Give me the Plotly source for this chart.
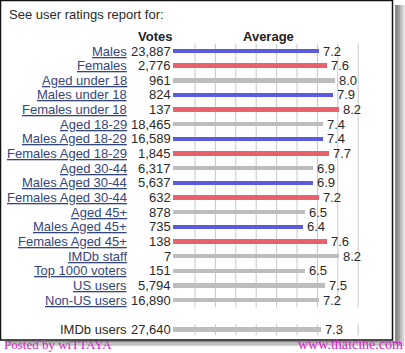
import plotly.graph_objects as go

W, H = 405, 353

labels = ["Males", "Females", "Aged under 18", "Males under 18", "Females under 18",
          "Aged 18-29", "Males Aged 18-29", "Females Aged 18-29", "Aged 30-44",
          "Males Aged 30-44", "Females Aged 30-44", "Aged 45+", "Males Aged 45+",
          "Females Aged 45+", "IMDb staff", "Top 1000 voters", "US users", "Non-US users"]
votes = ["23,887", "2,776", "961", "824", "137", "18,465", "16,589", "1,845", "6,317",
         "5,637", "632", "878", "735", "138", "7", "151", "5,794", "16,890"]
averages = [7.2, 7.6, 8.0, 7.9, 8.2, 7.4, 7.4, 7.7, 6.9, 6.9, 7.2, 6.5, 6.4, 7.6,
            8.2, 6.5, 7.5, 7.2]
groups = ["m", "f", "a", "m", "f", "a", "m", "f", "a", "m", "f", "a", "m", "f",
          "a", "a", "a", "a"]
total_label = "IMDb users"
total_votes = "27,640"
total_average = 7.3

COLORS = {"m": "#5b5be0", "f": "#e8626b", "a": "#bdbdbd"}
FONT = "Liberation Sans, Arial, sans-serif"
TXT = "#2a2a2a"
LINK = "#34467e"

# pixel geometry
X0, SX = 173.0, 20.3      # x pixel of value 0, pixels per unit
Y0, SY = 51.0, 14.65      # y pixel of first row, pixels per row


def px(x):
    return x / W


def py(y):
    return 1 - y / H


rows = list(range(len(labels)))
total_row = len(labels) + 1
all_rows = rows + [total_row]
all_vals = averages + [total_average]
all_cols = [COLORS[g] for g in groups] + [COLORS["a"]]

fig = go.Figure()
fig.add_trace(go.Bar(
    x=all_vals, y=all_rows, orientation="h", base=0,
    marker=dict(color=all_cols, line=dict(width=0)),
    width=0.3, hoverinfo="skip", showlegend=False,
))

ann = []
# title
ann.append(dict(x=px(7), y=py(15), xref="paper", yref="paper", text="See user ratings report for:",
                showarrow=False, xanchor="left", yanchor="middle",
                font=dict(family=FONT, size=13, color=TXT)))
ann.append(dict(x=px(155), y=py(37), xref="paper", yref="paper", text="<b>Votes</b>",
                showarrow=False, xanchor="center", yanchor="middle",
                font=dict(family=FONT, size=13, color="#222")))
ann.append(dict(x=px(268), y=py(37), xref="paper", yref="paper", text="<b>Average</b>",
                showarrow=False, xanchor="center", yanchor="middle",
                font=dict(family=FONT, size=13, color="#222")))

for r, lab, v, a in zip(all_rows, labels + [total_label], votes + [total_votes], all_vals):
    is_link = r != total_row
    ann.append(dict(x=px(129), y=r, xref="paper", yref="y",
                    text=f"<u>{lab}</u>" if is_link else lab,
                    showarrow=False, xanchor="right", yanchor="middle",
                    font=dict(family=FONT, size=13, color=LINK if is_link else TXT)))
    ann.append(dict(x=px(173), y=r, xref="paper", yref="y", text=v,
                    showarrow=False, xanchor="right", yanchor="middle",
                    font=dict(family=FONT, size=13, color=TXT)))
    ann.append(dict(x=a, y=r, xref="x", yref="y", text=f"{a:.1f}", xshift=2,
                    showarrow=False, xanchor="left", yanchor="middle",
                    font=dict(family=FONT, size=13, color=TXT)))

# footer
ann.append(dict(x=px(3), y=0, xref="paper", yref="paper", text="Posted by wiTTAYA",
                showarrow=False, xanchor="left", yanchor="bottom", borderpad=0,
                font=dict(family="Liberation Serif, serif", size=13, color="#d41fc8")))
ann.append(dict(x=px(404), y=0, xref="paper", yref="paper", text="www.thaicine.com",
                showarrow=False, xanchor="right", yanchor="bottom", borderpad=0,
                font=dict(family="Liberation Serif, serif", size=14, color="#d41fc8")))

shapes = []
# shadow (right and bottom)
shadow = [("#8a8a8a", 0), ("#a0a0a0", 2), ("#bcbcbc", 4), ("#d6d6d6", 6), ("#ececec", 8)]
for col, off in reversed(shadow):
    shapes.append(dict(type="rect", xref="paper", yref="paper", layer="below",
                       x0=px(395 + off), x1=px(395 + off + 3), y0=py(346), y1=py(5),
                       fillcolor=col, line=dict(width=0)))
for i, (col, off) in enumerate(shadow[:4]):
    shapes.append(dict(type="rect", xref="paper", yref="paper", layer="below",
                       x0=px(6), x1=px(398), y0=py(341 + 1.3 * i), y1=py(341 + 1.3 * (i + 1)),
                       fillcolor=col, line=dict(width=0)))
# box
shapes.append(dict(type="rect", xref="paper", yref="paper", layer="below",
                   x0=px(0.5), x1=px(392.5), y0=py(340), y1=py(0.5),
                   fillcolor="white", line=dict(color="#111", width=1.5)))
# vertical grid lines
for k in range(1, 10):
    gx = px(174.6 + 20.4 * k)
    shapes.append(dict(type="line", xref="paper", yref="y", layer="below",
                       x0=gx, x1=gx, y0=-0.5, y1=len(labels) - 0.5,
                       line=dict(color="#c8c8c8", width=1)))
    shapes.append(dict(type="line", xref="paper", yref="y", layer="below",
                       x0=gx, x1=gx, y0=total_row - 0.35, y1=total_row + 0.4,
                       line=dict(color="#c8c8c8", width=1)))

fig.update_layout(
    width=W, height=H, autosize=False,
    margin=dict(l=0, r=0, t=0, b=0, pad=0),
    paper_bgcolor="white", plot_bgcolor="rgba(0,0,0,0)",
    xaxis=dict(range=[-X0 / SX, (W - X0) / SX], visible=False, fixedrange=True),
    yaxis=dict(range=[(H - Y0) / SY, -Y0 / SY], visible=False, fixedrange=True),
    annotations=ann, shapes=shapes, bargap=0,
)

fig.write_html("out.html", config={"displayModeBar": False})
